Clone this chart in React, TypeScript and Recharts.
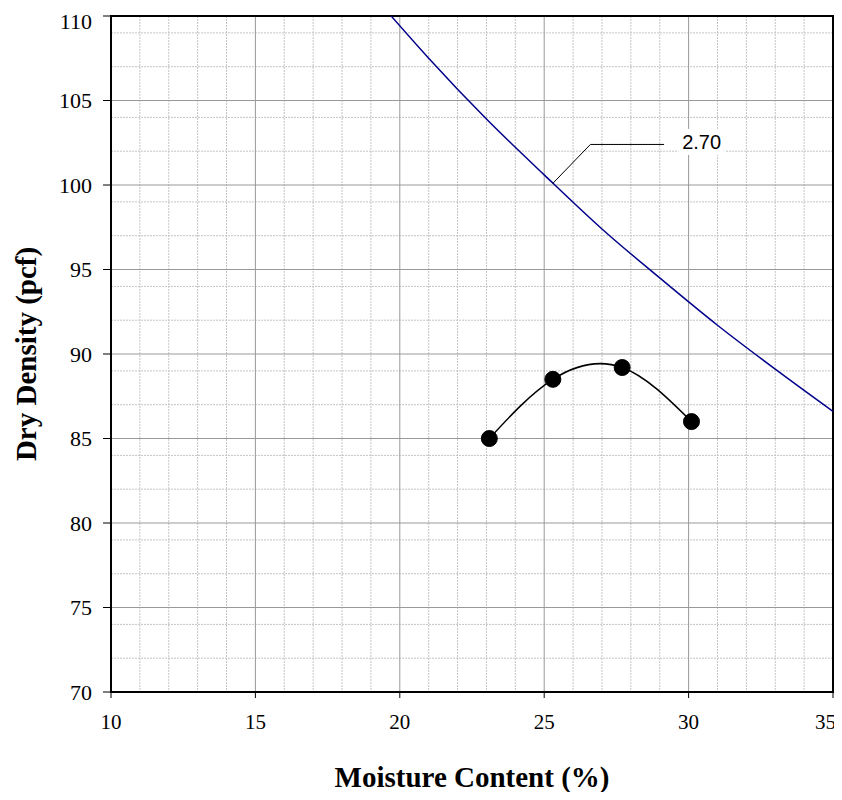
import React from 'react';
import { ComposedChart, Line, XAxis, YAxis, CartesianGrid, ReferenceArea, ReferenceDot } from 'recharts';

// compaction test points
const moisture = [23.1, 25.3, 27.7, 30.1];
const dryDensity = [85.0, 88.5, 89.2, 86.0];

// zero air voids curve, Gs = 2.70
const zavMoisture = [19.7, 21, 23, 25, 27, 29, 31, 33, 35];
const zavDensity = [110.0, 107.5, 103.9, 100.6, 97.4, 94.5, 91.7, 89.1, 86.6];
const zavLabel = '2.70';

// leader from curve to label
const leaderMoisture = [25.3, 26.6, 29.15];
const leaderDensity = [100.1, 102.4, 102.4];

const xTicks = [10, 15, 20, 25, 30, 35];
const yTicks = [70, 75, 80, 85, 90, 95, 100, 105, 110];
const xMinor = [11, 12, 13, 14, 16, 17, 18, 19, 21, 22, 23, 24, 26, 27, 28, 29, 31, 32, 33, 34];
const yMinor = [71, 72, 73, 74, 76, 77, 78, 79, 81, 82, 83, 84, 86, 87, 88, 89, 91, 92, 93, 94, 96, 97, 98, 99, 101, 102, 103, 104, 106, 107, 108, 109];

const testData = moisture.map((w, i) => ({ w, d: dryDensity[i] }));
const zavData = zavMoisture.map((w, i) => ({ w, d: zavDensity[i] }));
const leaderData = leaderMoisture.map((w, i) => ({ w, d: leaderDensity[i] }));

const serif = '"Liberation Serif", "Times New Roman", serif';

// last label would run off the page, so pin it to the right edge
const XTick = (props: any) => {
  const { x, y, payload } = props;
  const last = payload.value === xTicks[xTicks.length - 1];
  return (
    <text x={last ? x + 3 : x} y={y} dy="0.71em" textAnchor={last ? 'end' : 'middle'} fill="#000" fontSize={21} fontFamily={serif}>
      {payload.value}
    </text>
  );
};

const LabelBox = (props: any) => {
  const { cx, cy } = props;
  return (
    <g>
      <rect x={cx - 23} y={cy - 13} width={46} height={26} fill="#fff" />
      <text x={cx} y={cy} textAnchor="middle" dominantBaseline="central" fontFamily='"Liberation Sans", Arial, sans-serif' fontSize={20} fill="#000">
        {zavLabel}
      </text>
    </g>
  );
};

export default function App() {
  return (
    <ComposedChart width={834} height={784} margin={{ top: 8, right: 9, bottom: 0, left: 0 }}>
      <CartesianGrid verticalValues={xMinor} horizontalValues={yMinor} stroke="#c4c4c4" strokeDasharray="2 1" />
      <CartesianGrid verticalValues={xTicks} horizontalValues={yTicks} stroke="#999" />
      <XAxis
        type="number"
        dataKey="w"
        domain={[10, 35]}
        ticks={xTicks}
        allowDataOverflow
        height={100}
        tickSize={6}
        tickMargin={16}
        axisLine={{ stroke: '#000', strokeWidth: 2 }}
        tickLine={{ stroke: '#000' }}
        tick={<XTick />}
        label={{ value: 'Moisture Content (%)', position: 'insideBottom', offset: 5, style: { fill: '#000', fontSize: 29, fontWeight: 'bold', fontFamily: serif } }}
      />
      <YAxis
        type="number"
        domain={[70, 110]}
        ticks={yTicks}
        allowDataOverflow
        width={103}
        tickSize={8}
        tickMargin={11}
        axisLine={{ stroke: '#000', strokeWidth: 2 }}
        tickLine={{ stroke: '#000' }}
        tick={{ fill: '#000', fontSize: 22, fontFamily: serif }}
        label={{ value: 'Dry Density (pcf)', angle: -90, position: 'insideLeft', offset: 18, style: { textAnchor: 'middle', fill: '#000', fontSize: 29, fontWeight: 'bold', fontFamily: serif } }}
      />
      <ReferenceArea x1={10} x2={35} y1={70} y2={110} fill="none" fillOpacity={0} stroke="#000" strokeWidth={2} />
      <Line data={zavData} dataKey="d" type="monotone" stroke="#00008b" strokeWidth={1.5} dot={false} isAnimationActive={false} />
      <Line data={leaderData} dataKey="d" type="linear" stroke="#000" strokeWidth={1} dot={false} isAnimationActive={false} />
      <Line
        data={testData}
        dataKey="d"
        type="natural"
        stroke="#000"
        strokeWidth={1.5}
        dot={{ r: 8, fill: '#000', stroke: '#000', strokeWidth: 1 }}
        isAnimationActive={false}
      />
      <ReferenceDot x={30.45} y={102.55} r={0} shape={LabelBox} />
    </ComposedChart>
  );
}
